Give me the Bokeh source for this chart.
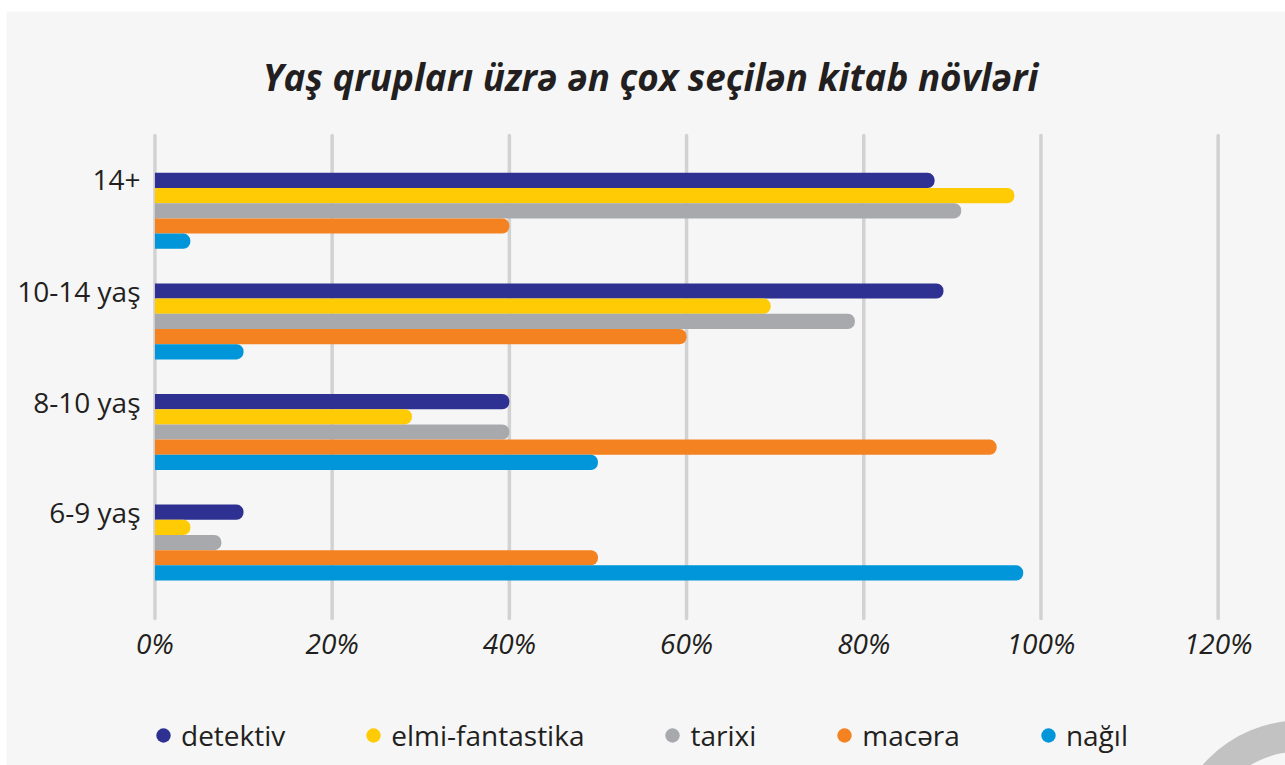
from bokeh.plotting import figure
from bokeh.models import Legend, LegendItem, Range1d, BoxAnnotation
from bokeh.embed import file_html
from bokeh.resources import INLINE
from bokeh.core.properties import value

# ---- data ----
categories = ["6-9 yaş", "8-10 yaş", "10-14 yaş", "14+"]
series_names = ["detektiv", "elmi-fantastika", "tarixi", "macəra", "nağıl"]
detektiv = [10, 40, 89, 88]
elmi_fantastika = [4, 29, 69.5, 97]
tarixi = [7.5, 40, 79, 91]
macera = [50, 95, 60, 40]
nagil = [98, 50, 10, 4]
x_ticks = [0, 20, 40, 60, 80, 100, 120]
x_tick_labels = ["0%", "20%", "40%", "60%", "80%", "100%", "120%"]
title_text = "Yaş qrupları üzrə ən çox seçilən kitab növləri"

colors = ["#2E3192", "#FFCB05", "#A7A9AC", "#F58220", "#0096D9"]
series = [detektiv, elmi_fantastika, tarixi, macera, nagil]

# ---- layout / style constants ----
TEXT = "#231F20"
BG = "#F6F6F6"
BAR_H = 0.1374
GROUP_SHIFT = -0.245
PLOT_BOTTOM = -0.932      # baseline of the category area
PLOT_TOP = 3.436
XLABEL_Y = -1.153
YLABEL_X = -1.63
TITLE_X = 55.94
TITLE_Y = 3.969

p = figure(width=1285, height=765, output_backend="svg", toolbar_location=None,
           x_range=Range1d(-17.43, 127.6), y_range=Range1d(-2.261, 4.657),
           min_border_left=0, min_border_right=0, min_border_top=0,
           min_border_bottom=0, background_fill_color="white", border_fill_color="white",
           outline_line_color=None, title=None)
p.xaxis.visible = False
p.yaxis.visible = False
p.xgrid.visible = False
p.ygrid.visible = False

# chart panel background (page shows a thin white edge at top/left)
p.add_layout(BoxAnnotation(left=-16.75, top=4.557, fill_color=BG, fill_alpha=1,
                           line_color=None, level="underlay"))

# decorative ring at bottom-right corner
p.annulus(x=[129.3], y=[-3.029], inner_radius=99, outer_radius=130,
          inner_radius_units="screen", outer_radius_units="screen",
          fill_color="#C2C2C2", line_color=None)

# vertical grid lines at the value ticks
p.segment(x0=x_ticks, x1=x_ticks, y0=[PLOT_BOTTOM] * len(x_ticks),
          y1=[PLOT_TOP] * len(x_ticks), line_color="#D2D2D2", line_width=3.5,
          line_cap="round")

legend_items = []
for k, (name, vals, col) in enumerate(zip(series_names, series, colors)):
    off = (2 - k) * BAR_H
    ys = [i + GROUP_SHIFT + off for i in range(len(categories))]
    p.hbar(y=ys, left=0, right=vals, height=BAR_H, fill_color=col,
           line_color=None, border_radius=(0, 7, 7, 0))
    r = p.scatter(x=[float("nan")], y=[float("nan")], marker="circle", size=14,
                  fill_color=col, line_color=None)
    legend_items.append(LegendItem(label=name, renderers=[r]))

# value tick labels
p.text(x=x_ticks, y=[XLABEL_Y] * len(x_ticks), text=x_tick_labels,
       text_align="center", text_baseline="middle", text_font=value("Open Sans"),
       text_font_style="italic", text_font_size="28px", text_color=TEXT)

# category labels
p.text(x=[YLABEL_X] * len(categories), y=[i + 0.03 for i in range(len(categories))],
       text=categories, text_align="right", text_baseline="middle",
       text_font=value("Open Sans"), text_font_size="28px", text_color=TEXT)

# title
p.text(x=[TITLE_X], y=[TITLE_Y], text=[title_text], text_align="center",
       text_baseline="alphabetic", text_font=value("Open Sans"),
       text_font_style="bold italic", text_font_size="36.8px", text_color=TEXT)

legend = Legend(items=legend_items, orientation="horizontal", location=(145, 11),
                glyph_width=36, glyph_height=36, label_height=36, label_standoff=0,
                spacing=70, padding=0, margin=0, border_line_color=None,
                background_fill_alpha=0, label_text_font="Open Sans",
                label_text_font_size="28px", label_text_color=TEXT)
p.add_layout(legend)

open("out.html", "w").write(file_html(p, INLINE))
